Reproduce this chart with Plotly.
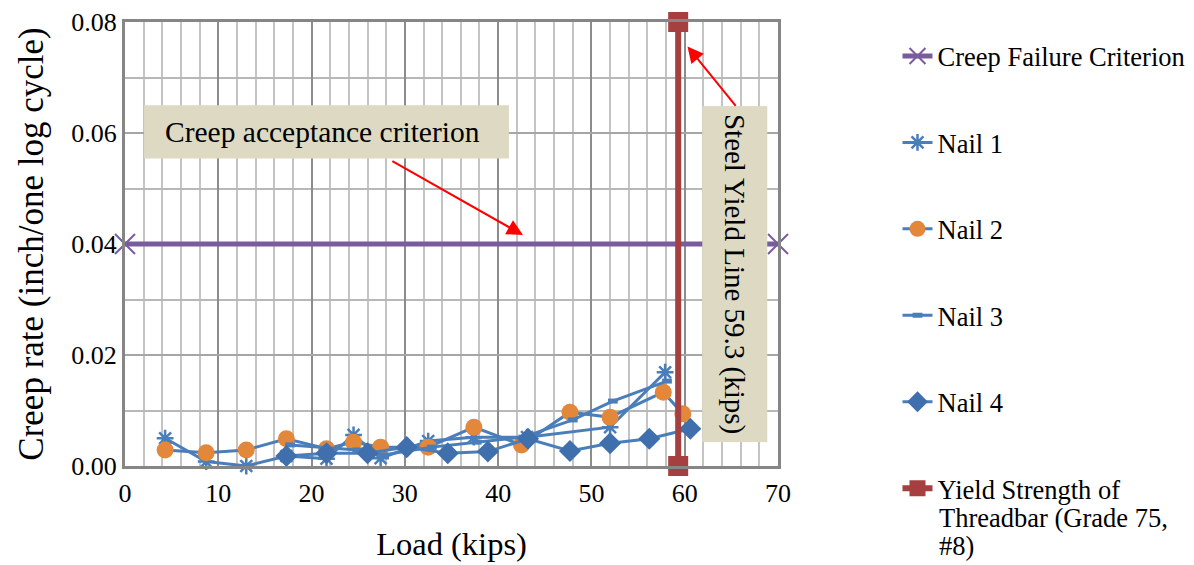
import plotly.graph_objects as go

# Creep test results for four soil nails: load (kips) vs creep rate
nail1_load = [4.3, 8.7, 13.0, 17.3, 21.6, 24.5, 27.4, 32.5, 37.4, 43.1, 52.0, 57.9]
nail1_rate = [0.0050, 0.0008, 0.0000, 0.0018, 0.0013, 0.0056, 0.0014, 0.0045, 0.0052, 0.0052, 0.0070, 0.0169]

nail2_load = [4.3, 8.7, 13.0, 17.3, 21.6, 24.5, 27.4, 32.5, 37.4, 42.5, 47.7, 52.0, 57.7, 59.8]
nail2_rate = [0.0029, 0.0024, 0.0029, 0.0049, 0.0031, 0.0043, 0.0034, 0.0034, 0.0070, 0.0038, 0.0097, 0.0088, 0.0133, 0.0094]

nail3_load = [17.7, 24.9, 27.7, 32.9, 37.7, 42.7, 48.0, 52.3, 58.1]
nail3_rate = [0.0038, 0.0029, 0.0020, 0.0034, 0.0043, 0.0052, 0.0083, 0.0117, 0.0153]

nail4_load = [17.3, 21.6, 26.0, 30.2, 34.6, 38.9, 43.2, 47.7, 52.0, 56.2, 60.6]
nail4_rate = [0.0018, 0.0023, 0.0023, 0.0034, 0.0023, 0.0026, 0.0049, 0.0027, 0.0041, 0.0049, 0.0067]

# Reference lines
criterion_load = [0, 70]
criterion_rate = [0.04, 0.04]
yield_load = [59.3, 59.3]
yield_rate = [0.0, 0.08]

FONT = "Liberation Serif"
LINE_BLUE = "#4A7EBB"
LEGEND_SIZE = 26.5

fig = go.Figure()

fig.add_trace(go.Scatter(
    x=criterion_load, y=criterion_rate, name="Creep Failure Criterion",
    mode="lines+markers", legendgroup="g0",
    line=dict(color="#7A5C9E", width=5),
    marker=dict(symbol="x-thin", size=20, line=dict(color="#7A5C9E", width=2)),
    cliponaxis=False,
))
fig.add_trace(go.Scatter(
    x=nail1_load, y=nail1_rate, name="Nail 1", mode="lines+markers", legendgroup="g1",
    line=dict(color=LINE_BLUE, width=3),
    marker=dict(symbol="asterisk-open", size=14, line=dict(color="#3FA0BA", width=2.5)),
    cliponaxis=False,
))
fig.add_trace(go.Scatter(
    x=nail2_load, y=nail2_rate, name="Nail 2", mode="lines+markers", legendgroup="g2",
    line=dict(color=LINE_BLUE, width=3),
    marker=dict(symbol="circle", size=17, color="#E3873A"),
    cliponaxis=False,
))
fig.add_trace(go.Scatter(
    x=nail3_load, y=nail3_rate, name="Nail 3", mode="lines+markers", legendgroup="g3",
    line=dict(color=LINE_BLUE, width=3),
    marker=dict(symbol="line-ew-open", size=7, line=dict(color="#DE9A9A", width=5)),
    cliponaxis=False,
))
fig.add_trace(go.Scatter(
    x=nail4_load, y=nail4_rate, name="Nail 4", mode="lines+markers", legendgroup="g4",
    line=dict(color=LINE_BLUE, width=3),
    marker=dict(symbol="diamond", size=17, color="#3F70AD"),
    cliponaxis=False,
))
fig.add_trace(go.Scatter(
    x=yield_load, y=yield_rate, name="Yield Strength of",
    mode="lines+markers", legendgroup="g5",
    line=dict(color="#A63F3F", width=6),
    marker=dict(symbol="square", size=20, color="#A63F3F"),
    cliponaxis=False,
))

# Continuation lines of the last legend label, set with tighter line spacing
for txt, yp in [("Threadbar (Grade 75,", -0.117), ("#8)", -0.180)]:
    fig.add_annotation(
        x=1.2435, y=yp, xref="paper", yref="paper", text=txt, showarrow=False,
        xanchor="left", yanchor="middle",
        font=dict(family=FONT, size=LEGEND_SIZE, color="black"),
    )

# "Creep acceptance criterion" callout box and arrow
fig.add_shape(
    type="rect", xref="x", yref="y", x0=2.04, x1=41.16, y0=0.0554, y1=0.0650,
    fillcolor="#DDD9C3", line=dict(width=0), layer="above",
)
fig.add_annotation(
    x=4.07, y=0.0602, xref="x", yref="y", text="Creep acceptance criterion",
    showarrow=False, xanchor="left", yanchor="middle",
    font=dict(family=FONT, size=29.5, color="black"),
)
fig.add_annotation(
    x=42.66, y=0.0416, ax=28.5, ay=0.0551, xref="x", yref="y", axref="x", ayref="y",
    text="", showarrow=True, arrowhead=2, arrowsize=1.6, arrowwidth=2, arrowcolor="#FF0000",
)

# Steel yield line callout (vertical text) and arrow
fig.add_annotation(
    x=65.4, y=0.03465, xref="x", yref="y", text="Steel Yield Line 59.3 (kips)",
    showarrow=False, bgcolor="#DDD9C3", textangle=90, width=325, height=54, borderpad=5,
    xanchor="center", yanchor="middle",
    font=dict(family=FONT, size=29, color="black"),
)
fig.add_annotation(
    x=60.3, y=0.0756, ax=65.6, ay=0.0646, xref="x", yref="y", axref="x", ayref="y",
    text="", showarrow=True, arrowhead=2, arrowsize=1.6, arrowwidth=2, arrowcolor="#FF0000",
)

fig.update_layout(
    width=1194, height=565,
    margin=dict(l=125, r=416, t=22, b=99, autoexpand=False),
    paper_bgcolor="white", plot_bgcolor="white",
    font=dict(family=FONT, size=26, color="black"),
    showlegend=True,
    legend=dict(
        x=1.183, y=0.977, xanchor="left", yanchor="top",
        font=dict(family=FONT, size=LEGEND_SIZE, color="black"),
        tracegroupgap=49, valign="middle", bgcolor="rgba(0,0,0,0)",
        maxheight=560,
    ),
)

fig.update_xaxes(
    range=[0, 70], dtick=10, tick0=0,
    showgrid=True, gridcolor="#8C8C8C", gridwidth=1.5,
    minor=dict(dtick=2, showgrid=True, gridcolor="#C4C4C4", gridwidth=1.5),
    showline=True, linecolor="#868686", linewidth=3, mirror=True,
    zeroline=False, ticks="", ticklabelstandoff=2,
    tickfont=dict(family=FONT, size=26, color="black"),
    title=dict(text="Load (kips)", font=dict(family=FONT, size=32.5, color="black"), standoff=26),
)
fig.update_yaxes(
    range=[0, 0.08], dtick=0.02, tick0=0, tickformat=".2f",
    showgrid=True, gridcolor="#A6A6A6", gridwidth=1.5,
    minor=dict(dtick=0.01, showgrid=True, gridcolor="#B8B8B8", gridwidth=1.5),
    showline=True, linecolor="#868686", linewidth=3, mirror=True,
    zeroline=False, ticks="", ticklabelstandoff=0,
    tickfont=dict(family=FONT, size=26, color="black"),
    title=dict(text="Creep rate (inch/one log cycle)", font=dict(family=FONT, size=35, color="black"), standoff=18),
)

fig.write_html("out.html")
